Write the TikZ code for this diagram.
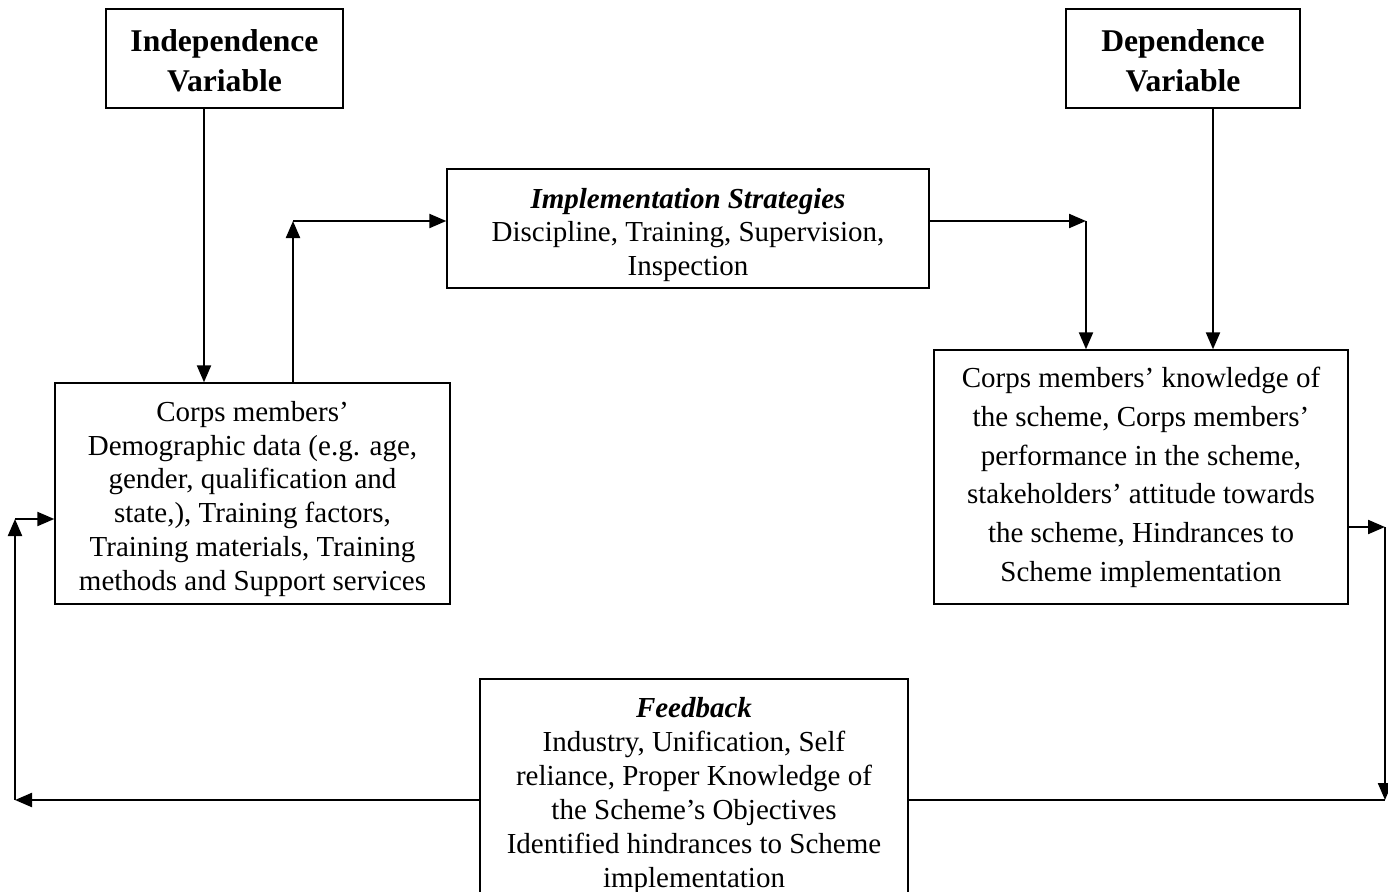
\documentclass[tikz,border=0pt]{standalone}
\usepackage{fontspec}
\setmainfont{Liberation Serif}
\usetikzlibrary{arrows.meta}
% pushes the lines of a box down by #1
\newcommand{\dropby}[1]{\rule{0pt}{\dimexpr\fontcharht\font`d+#1+#1\relax}}

\begin{document}
\begin{tikzpicture}
    \useasboundingbox (0,0) rectangle (27.76,-17.84);
    \clip (0,0) rectangle (27.76,-17.84);
    \tikzset{
        box/.style={shape=rectangle,draw=black,line width=0.8pt,align=center,inner sep=0pt,
            font=\fontsize{16.5}{19.3}\selectfont},
        head/.style={box,font=\fontsize{18}{23.2}\selectfont\bfseries},
        arr/.style={line width=1.25pt,-{Triangle[length=0.34cm,width=0.28cm]}},
        line/.style={line width=1.25pt}
    }
    \node[head,minimum width=4.74cm,minimum height=1.98cm] (indep) at (4.49,-1.17) {\dropby{1.7pt}Independence\\Variable};
    \node[head,minimum width=4.68cm,minimum height=1.98cm] (dep) at (23.66,-1.17) {\dropby{1.7pt}Dependence\\Variable};
    \node[box,minimum width=9.64cm,minimum height=2.38cm] (impl) at (13.76,-4.57)
        {\dropby{4pt}\textbf{\textit{Implementation Strategies}}\\Discipline, Training, Supervision,\\Inspection};
    \node[box,minimum width=7.9cm,minimum height=4.42cm] (left) at (5.05,-9.87)
        {\dropby{3.4pt}Corps members’\\Demographic data (e.g. age,\\gender, qualification and\\state,), Training factors,\\Training materials, Training\\methods and Support services};
    \node[box,minimum width=8.28cm,minimum height=5.08cm,font=\fontsize{16.5}{22}\selectfont] (right) at (22.82,-9.54)
        {\dropby{0.6pt}Corps members’ knowledge of\\the scheme, Corps members’\\performance in the scheme,\\stakeholders’ attitude towards\\the scheme, Hindrances to\\Scheme implementation};
    \node[box,minimum width=8.56cm,minimum height=4.52cm] (feed) at (13.88,-15.84)
        {\dropby{2.3pt}\textbf{\textit{Feedback}}\\Industry, Unification, Self\\reliance, Proper Knowledge of\\the Scheme’s Objectives\\Identified hindrances to Scheme\\implementation};

    \coordinate (c0) at (4.08,0);
    \coordinate (d0) at (24.26,0);
    \coordinate (c1) at (5.86,-4.42);
    \coordinate (c2) at (21.72,-4.42);
    \coordinate (c3) at (27.70,-10.54);
    \coordinate (c4) at (27.70,-16.0);
    \coordinate (c5) at (0.30,-16.0);
    \coordinate (c6) at (0.30,-10.38);

    \draw[arr] (indep.south -| c0) -- (left.north -| c0);
    \draw[arr] (dep.south -| d0) -- (right.north -| d0);

    \draw[arr] (left.north -| c1) -- (c1);
    \draw[arr] (c1) -- (impl.west |- c1);
    \draw[arr] (impl.east |- c2) -- (c2);
    \draw[arr] (c2) -- (right.north -| c2);

    \draw[arr] (right.east |- c3) -- (c3);
    \draw[arr] (c3) -- (c4);
    \draw[line] (feed.east |- c4) -- (c4);

    \draw[arr] (feed.west |- c5) -- (c5);
    \draw[arr] (c5) -- (c6);
    \draw[arr] (c6) -- (left.west |- c6);
\end{tikzpicture}
\end{document}
